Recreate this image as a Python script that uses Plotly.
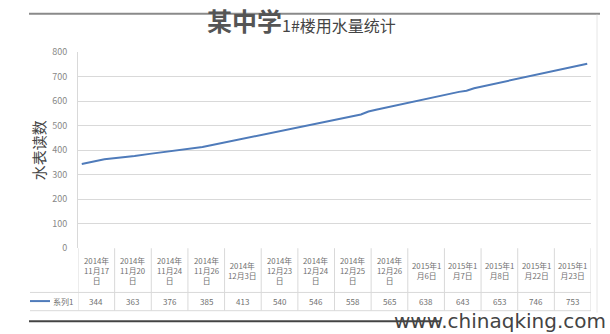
import plotly.graph_objects as go

# ---- data ----
dates = ["2014-11-17", "2014-11-20", "2014-11-24", "2014-11-26", "2014-12-03",
         "2014-12-23", "2014-12-24", "2014-12-25", "2014-12-26", "2015-01-06",
         "2015-01-07", "2015-01-08", "2015-01-22", "2015-01-23"]
labels = ["2014年<br>11月17<br>日", "2014年<br>11月20<br>日", "2014年<br>11月24<br>日",
          "2014年<br>11月26<br>日", "2014年<br>12月3日", "2014年<br>12月23<br>日",
          "2014年<br>12月24<br>日", "2014年<br>12月25<br>日", "2014年<br>12月26<br>日",
          "2015年1<br>月6日", "2015年1<br>月7日", "2015年1<br>月8日",
          "2015年1<br>月22日", "2015年1<br>月23日"]
values = [344, 363, 376, 385, 413, 540, 546, 558, 565, 638, 643, 653, 746, 753]
series_name = "系列1"
title_a = "某中学"
title_b = "1#楼用水量统计"
y_title = "水表读数"

W, H = 610, 334
def px(x): return x / W
def py(y): return 1 - y / H

LINE = "#4F7BBA"
GRID = "#d9d9d9"
TXT = "#707070"
FONT = "Noto Sans CJK SC"

fig = go.Figure()
fig.add_trace(go.Scatter(x=dates, y=values, mode="lines",
                         line=dict(color=LINE, width=2), xaxis="x", yaxis="y",
                         showlegend=False, hoverinfo="x+y"))
# invisible helper trace on the category axis used by the data table
fig.add_trace(go.Scatter(x=list(range(len(values))), y=values, mode="markers",
                         marker=dict(opacity=0), xaxis="x2", yaxis="y",
                         showlegend=False, hoverinfo="skip"))

dom_x = [px(78), px(591)]
dom_y = [py(251), py(47)]

fig.update_layout(
    width=W, height=H, margin=dict(l=0, r=0, t=0, b=0),
    paper_bgcolor="white", plot_bgcolor="white",
    font=dict(family=FONT, color=TXT),
    xaxis=dict(type="date", domain=dom_x, range=["2014-11-16 12:00", "2015-01-23 12:00"],
               showticklabels=False, showgrid=False, zeroline=False, ticks=""),
    xaxis2=dict(overlaying="x", range=[-0.5, len(values) - 0.5], visible=False,
                showgrid=False, zeroline=False),
    yaxis=dict(domain=dom_y, range=[0, 800], dtick=100, gridcolor=GRID, gridwidth=1,
               zeroline=False, showline=True, linecolor=GRID, linewidth=1,
               tickfont=dict(size=9, color="#888"), ticks="", ticklabelstandoff=8),
)

shapes = []
anns = []
row_top, row_mid, row_bot = 251, 297, 316
# table vertical lines
for i in range(len(values) + 1):
    shapes.append(dict(type="line", xref="x2", yref="paper", x0=i - 0.5, x1=i - 0.5,
                       y0=py(row_top), y1=py(row_bot), line=dict(color=GRID, width=1)))
# table horizontal lines
for yy in (row_mid, row_bot):
    shapes.append(dict(type="line", xref="paper", yref="paper", x0=px(30), x1=px(591),
                       y0=py(yy), y1=py(yy), line=dict(color=GRID, width=1)))
# legend sample in the table
shapes.append(dict(type="line", xref="paper", yref="paper", x0=px(30), x1=px(50),
                   y0=py(306), y1=py(306), line=dict(color=LINE, width=2)))
# frame lines
shapes.append(dict(type="line", xref="paper", yref="paper", x0=px(29), x1=px(600),
                   y0=py(7), y1=py(7), line=dict(color="#8a8a8a", width=2)))
shapes.append(dict(type="line", xref="paper", yref="paper", x0=px(597), x1=px(597),
                   y0=py(8), y1=py(318), line=dict(color="#e6e6e6", width=1)))
shapes.append(dict(type="line", xref="paper", yref="paper", x0=px(29), x1=px(440),
                   y0=py(327), y1=py(327), line=dict(color="#444", width=2)))

for i, (lab, v) in enumerate(zip(labels, values)):
    anns.append(dict(xref="x2", yref="paper", x=i, y=py((row_top + row_mid) / 2), text=lab,
                     showarrow=False, font=dict(size=7.8, color=TXT, family=FONT),
                     xanchor="center", yanchor="middle", align="center"))
    anns.append(dict(xref="x2", yref="paper", x=i, y=py((row_mid + row_bot) / 2), text=str(v),
                     showarrow=False, font=dict(size=8, color=TXT, family=FONT),
                     xanchor="center", yanchor="middle"))
anns.append(dict(xref="paper", yref="paper", x=px(75), y=py(306), text=series_name,
                 showarrow=False, font=dict(size=8, color=TXT, family=FONT),
                 xanchor="right", yanchor="middle"))
# titles
anns.append(dict(xref="paper", yref="paper", x=px(284), y=py(34), text="<b>" + title_a + "</b>",
                 showarrow=False, font=dict(size=25, color="#555", family=FONT),
                 xanchor="right", yanchor="bottom"))
anns.append(dict(xref="paper", yref="paper", x=px(280), y=py(33), text=title_b,
                 showarrow=False, font=dict(size=16, color="#444", family=FONT),
                 xanchor="left", yanchor="bottom"))
anns.append(dict(xref="paper", yref="paper", x=px(38), y=py(149), text=y_title, textangle=-90,
                 showarrow=False, font=dict(size=15, color="#444", family=FONT),
                 xanchor="center", yanchor="middle"))
# source watermark
anns.append(dict(xref="paper", yref="paper", x=px(608), y=py(341), text="www.chinaqking.com",
                 showarrow=False, font=dict(size=20, color="#444", family="DejaVu Sans"),
                 xanchor="right", yanchor="bottom"))

fig.update_layout(shapes=shapes, annotations=anns)
fig.write_html("out.html")
